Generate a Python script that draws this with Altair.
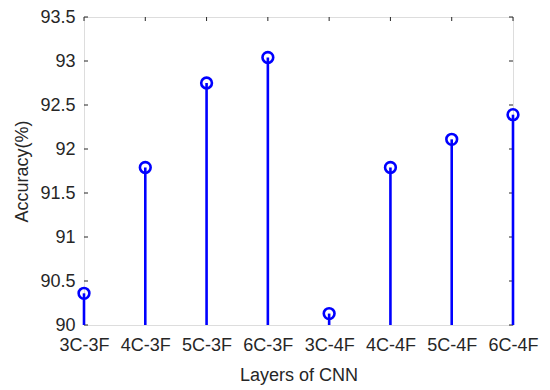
import altair as alt
import pandas as pd

categories = ["3C-3F", "4C-3F", "5C-3F", "6C-3F", "3C-4F", "4C-4F", "5C-4F", "6C-4F"]
positions = [1, 2, 3, 4, 5, 6, 7, 8]
accuracy = [90.36, 91.79, 92.75, 93.04, 90.13, 91.79, 92.11, 92.39]
y_ticks = [90, 90.5, 91, 91.5, 92, 92.5, 93, 93.5]
stem_base = 90

W, H = 429, 308
FONT = "Liberation Sans"
AXC = "#262626"
BLUE = "#0000FF"

df = pd.DataFrame({"pos": positions, "cat": categories, "acc": accuracy})
yt = pd.DataFrame({"yt": y_ticks})
xt = pd.DataFrame({"xt": positions})

label_arr = "[" + ",".join("'" + c + "'" for c in categories) + "]"

xscale = alt.Scale(domain=[1, 8], nice=False, zero=False)
yscale = alt.Scale(domain=[90, 93.5], nice=False, zero=False)

xaxis = alt.Axis(
    values=positions, labelExpr=label_arr + "[datum.value - 1]",
    title="Layers of CNN", ticks=False, tickSize=0, domain=False, grid=False,
    labelPadding=11, labelFontSize=18, labelColor=AXC, labelFont=FONT,
    titleFont=FONT, titleFontSize=18, titleFontWeight="normal", titleColor=AXC,
    titleY=55, titleBaseline="alphabetic", labelFlush=False, labelOverlap=False,
)
yaxis = alt.Axis(
    values=y_ticks, format="~g", title="Accuracy(%)", ticks=False, tickSize=0,
    domain=False, grid=False, labelPadding=9, labelFontSize=18, labelColor=AXC,
    labelFont=FONT, titleFont=FONT, titleFontSize=18, titleFontWeight="normal",
    titleColor=AXC, titleX=-62, titleY=H / 2, titleAngle=-90,
    titleBaseline="middle", titleAlign="center", labelFlush=False,
    labelOverlap=False,
)

base = alt.Chart(df)

stems = base.mark_rule(color=BLUE, strokeWidth=2.6).encode(
    x=alt.X("pos:Q", scale=xscale, axis=xaxis),
    y=alt.Y("acc:Q", scale=yscale, axis=yaxis),
    y2=alt.datum(stem_base),
)
heads = base.mark_point(shape="circle", filled=False, color=BLUE, size=115,
                        strokeWidth=2.6, opacity=1).encode(
    x=alt.X("pos:Q", scale=xscale),
    y=alt.Y("acc:Q", scale=yscale),
)

tl = alt.Chart(yt).mark_rule(color=AXC, strokeWidth=1).encode(
    y=alt.Y("yt:Q", scale=yscale), x=alt.value(0), x2=alt.value(4))
tr = alt.Chart(yt).mark_rule(color=AXC, strokeWidth=1).encode(
    y=alt.Y("yt:Q", scale=yscale), x=alt.value(W - 4), x2=alt.value(W))
tb = alt.Chart(xt).mark_rule(color=AXC, strokeWidth=1).encode(
    x=alt.X("xt:Q", scale=xscale), y=alt.value(H), y2=alt.value(H - 4))
tt = alt.Chart(xt).mark_rule(color=AXC, strokeWidth=1).encode(
    x=alt.X("xt:Q", scale=xscale), y=alt.value(0), y2=alt.value(4))

chart = alt.layer(tl, tr, tb, tt, stems, heads).properties(
    width=W, height=H,
    autosize=alt.AutoSizeParams(type="none"),
    padding={"left": 76, "top": 9, "right": 29, "bottom": 60},
).configure_view(stroke=AXC, strokeWidth=1).configure(background="white")

chart.save("out.html", embed_options={"renderer": "svg", "actions": False})
